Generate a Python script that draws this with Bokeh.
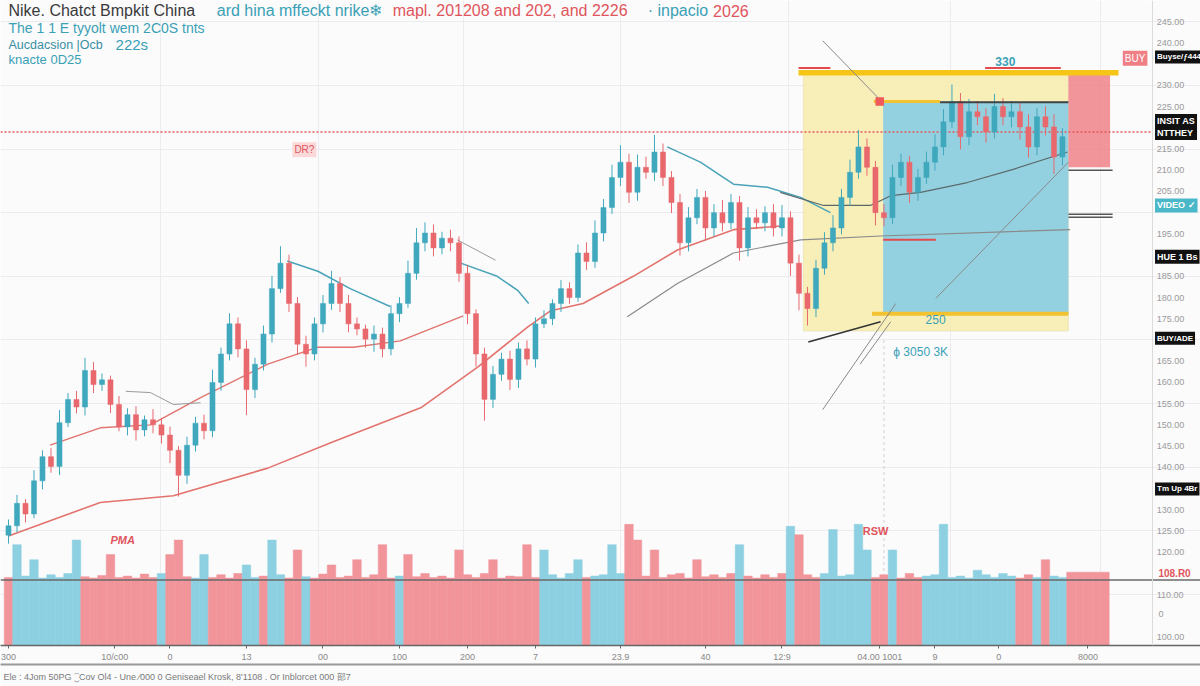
import numpy as np
from bokeh.plotting import figure
from bokeh.models import (Range1d, LinearAxis, FixedTicker, Span, Label,
                          BoxAnnotation, Title, ColumnDataSource)
from bokeh.embed import file_html
from bokeh.resources import INLINE
from bokeh.core.properties import value

# ---------------- data ----------------
closes = [126.2, 131.5, 129.0, 136.8, 142.5, 140.2, 150.5, 156.0, 154.2, 162.8,
          159.5, 160.6, 154.8, 149.5, 152.4, 148.8, 151.2, 150.0, 147.6, 144.0,
          138.1, 145.2, 150.4, 148.6, 160.0, 166.7, 173.8, 167.9, 158.3, 164.3,
          171.4, 182.1, 188.1, 178.6, 169.0, 166.7, 173.8, 178.6, 183.3, 178.6,
          173.8, 172.6, 170.2, 171.4, 167.9, 176.2, 178.6, 185.7, 192.9, 195.2,
          191.7, 194.0, 192.9, 185.7, 176.2, 166.7, 156.0, 161.9, 165.5, 160.7,
          167.9, 165.5, 173.8, 175.0, 178.6, 182.1, 180.0, 190.5, 188.5, 195.2,
          201.2, 208.3, 211.9, 204.8, 210.7, 209.5, 214.3, 208.3, 202.4, 192.9,
          198.8, 203.6, 196.4, 200.0, 197.6, 202.4, 191.7, 198.8, 197.6, 200.0,
          196.4, 198.8, 188.1, 181.0, 177.4, 186.9, 192.9, 196.4, 203.6, 209.5,
          215.5, 210.7, 200.0, 198.8, 208.3, 211.9, 204.8, 208.3, 211.9, 215.5,
          221.4, 226.2, 217.9, 223.8, 222.6, 219.0, 225.0, 222.6, 223.8, 220.2,
          215.5, 222.6, 220.2, 213.1, 217.9]
first_open = 124.0
wick_hi = [1.5, 2, 1, 2.5, 1.5, 2, 3, 1.5, 2, 3,
           2, 1.5, 1, 2, 1.5, 2, 1, 2.5, 1.5, 2,
           1, 2, 1.5, 2, 3, 1.5, 2.5, 1.5, 2, 1.5,
           2, 3, 4, 2, 1.5, 2, 1.5, 2, 3, 1.5,
           2, 1.5, 1, 2, 1.5, 2, 1.5, 3, 3.5, 2.5,
           2, 1.5, 2, 1.5, 2, 1, 1.5, 2, 1.5, 2,
           1.5, 2, 1.5, 2, 1, 2, 1.5, 2, 2.5, 3,
           2, 3, 4, 2, 3, 2.5, 4, 2, 1.5, 2,
           2.5, 2, 1.5, 2, 3, 2, 1.5, 2.5, 2, 1.5,
           2, 3, 1.5, 2, 1.5, 2, 2.5, 3, 2, 3,
           4, 2, 1.5, 2, 3, 2, 1.5, 2, 2.5, 3,
           3, 4, 2, 3, 2.5, 2, 3, 2, 2.5, 2,
           3, 2, 2.5, 3, 2]
wick_lo = [2, 1.5, 2, 1, 2, 1.5, 2, 1, 1.5, 2,
           2, 1.5, 2, 1, 2, 2.5, 1.5, 2, 2, 3,
           5, 2, 1.5, 2, 1.5, 2, 1.5, 2, 6, 2,
           1.5, 2, 1, 2, 2.5, 3, 1.5, 2, 1.5, 2,
           2, 1.5, 2, 3, 2, 1.5, 2, 1, 1.5, 2,
           2, 1.5, 2, 2, 2.5, 3, 5, 2, 1.5, 2.5,
           2, 1.5, 2, 1, 1.5, 2, 1.5, 1, 2, 1.5,
           2, 1.5, 2, 2.5, 2, 1.5, 2, 2, 2.5, 3,
           2, 1.5, 3, 2, 2, 1.5, 3, 2, 1.5, 2,
           2, 2, 3, 4, 4, 2, 1.5, 2, 1.5, 2,
           1.5, 2, 3, 2, 1.5, 2, 2.5, 2, 1.5, 2,
           2, 1.5, 3, 2, 2, 2.5, 1.5, 2, 2.5, 3,
           2.5, 2, 2, 4, 2]
volumes = [104, 154, 106, 131, 103, 108, 104, 110, 161, 105,
           103, 107, 139, 104, 106, 103, 109, 104, 110, 139,
           161, 105, 103, 139, 104, 108, 103, 110, 123, 104,
           106, 161, 108, 103, 146, 105, 103, 109, 123, 104,
           106, 131, 104, 108, 154, 103, 106, 139, 105, 110,
           104, 106, 103, 146, 108, 104, 110, 131, 103, 106,
           105, 154, 104, 146, 108, 103, 110, 131, 104, 106,
           108, 154, 110, 185, 161, 106, 146, 104, 108, 110,
           103, 131, 105, 108, 104, 110, 154, 106, 103, 108,
           104, 110, 182, 169, 108, 104, 110, 177, 106, 108,
           185, 146, 104, 108, 146, 103, 110, 104, 106, 108,
           185, 104, 106, 103, 115, 108, 104, 110, 106, 103,
           108, 104, 131, 106, 104,
           112, 112, 112, 112, 112]
vol_side = ("r" "bbbbbbbb" "rrrrrrrrr" "b" "rrr" "bb" "rrrr" "bb" "r" "bb" "rr" "b"
            "rrrrrrrrrr" "b" "rrrrrrrrrrrrrrrr" "bbbbb" "r" "bbbb" "rrrrrrrrrrrrr" "b"
            "rrrrr" "b" "rrr" "bbbbbb" "rr" "b" "rrr" "bbbbbbbbbbb" "rr" "b" "r" "bb" "rrrrr")

ma_slow_x = [0, 4.9, 10.8, 19.4, 30.5, 38.2, 48.5, 55.2, 61.1, 63.8, 67.6, 73.5, 78.7, 85.3, 91.2]
ma_slow_y = [123.8, 127.4, 131.7, 133.3, 139.8, 146.0, 154.0, 163.6, 173.1, 176.9, 178.6, 185.0, 191.2, 196.0, 196.9]
ma_mid_x = [4.9, 10.8, 16.7, 22.6, 30.5, 36.4, 40.6, 46.1, 53.5]
ma_mid_y = [145.2, 149.3, 150.0, 156.4, 164.3, 168.3, 168.3, 169.8, 175.7]
teal_a_x = [32.8, 36.4, 40.2, 44.9]
teal_a_y = [188.6, 186.2, 182.1, 177.9]
teal_b_x = [53.2, 57.5, 59.9, 61.2]
teal_b_y = [188.1, 185.0, 181.7, 178.6]
teal_c_x = [77.5, 81.4, 85.3, 89.3, 93.2, 96.7]
teal_c_y = [215.5, 211.9, 206.7, 206.0, 203.6, 200.0]
dark_x = [90.8, 95.9, 101.4, 103.8, 107.3, 112.8, 118.2, 124.6]
dark_y = [204.8, 201.7, 201.7, 204.0, 204.8, 207.1, 210.2, 214.3]
grey_x = [72.8, 78.7, 85.3, 93.2, 102.6, 124.9]
grey_y = [175.5, 183.3, 190.5, 193.6, 194.5, 196.0]
grey_s1_x = [13.8, 16.7, 19.4, 22.6]
grey_s1_y = [157.9, 157.6, 154.8, 155.2]
grey_s2_x = [52.8, 57.3]
grey_s2_y = [193.6, 188.8]

xtick_pos = [0, 12.5, 19, 28, 37, 46, 54, 62, 72, 82, 91, 102.5, 109, 116.5, 127]
xtick_labels = ["300", "10/c00", "0", "13", "00", "100", "200", "7", "23.9", "40",
                "12:9", "04.00 1001", "9", "0", "8000"]
price_ticks = [100, 110, 120, 125, 130, 140, 145, 150, 155, 160, 165, 175, 180, 185,
               195, 205, 210, 215, 225, 230, 240, 245]

# ---------------- derived ----------------
n = len(closes)
idx = np.arange(n)
opens = np.array([first_open] + closes[:-1])
c = np.array(closes)
top = np.maximum(opens, c)
bot = np.minimum(opens, c)
small = (top - bot) < 0.4
top = np.where(small, top + 0.2, top)
bot = np.where(small, bot - 0.2, bot)
highs = top + np.array(wick_hi)
lows = bot - np.array(wick_lo)
up = c >= opens
UP, DN = "#3fa8bd", "#e8686d"
ccol = [UP if u else DN for u in up]

VUP, VDN = "#8dd0e1", "#f1959a"
nv = len(volumes)
vcol = [(VUP if (vol_side[i] if i < len(vol_side) else "r") == "b" else VDN) for i in range(nv)]

X0, X1 = -0.94, 140.24
AXIS_X = 134.59   # price-scale edge, in candle-index units

# ---------------- figure ----------------
p = figure(width=1200, height=686, output_backend="svg", toolbar_location=None,
           x_range=Range1d(X0, X1), y_range=Range1d(98, 250),
           y_axis_location=None, min_border_left=0, min_border_top=0,
           min_border_right=0, min_border_bottom=40, background_fill_color="#fbfbfc",
           border_fill_color="#fbfbfc", outline_line_color=None)
p.extra_y_ranges = {"vol": Range1d(0, 985)}

p.xaxis.ticker = FixedTicker(ticks=xtick_pos)
p.xaxis.major_label_overrides = {float(k): v for k, v in zip(xtick_pos, xtick_labels)}
p.xaxis.major_label_text_font_size = "9px"
p.xaxis.major_label_text_color = "#888888"
p.xaxis.axis_line_color = "#666666"
p.xaxis.axis_line_width = 1.5
p.xaxis.major_tick_line_color = "#666666"
p.xaxis.major_tick_out = 3
p.xaxis.major_tick_in = 0
p.xaxis.minor_tick_line_color = None
p.xaxis.major_label_standoff = 3

sep = LinearAxis(axis_line_color="#9a9a9a", axis_line_width=2, major_tick_line_color=None,
                 minor_tick_line_color=None, major_label_text_font_size="1px",
                 major_label_text_color=None, ticker=FixedTicker(ticks=[]))
p.add_layout(sep, "below")
p.add_layout(Title(text="Ele : 4Jom 50PG \u2050Cov Ol4 - Une \u2044000 0 Geniseael Krosk, 8'1108 . Or Inblorcet 000"
                   "                       \u90e87",
                   align="left", text_font_size="9px", text_color="#7a7a7a",
                   text_font_style="normal", text_font="Liberation Sans", offset=3), "below")

p.xgrid.ticker = FixedTicker(ticks=[17.9, 36.5, 53.5, 72.0, 91.8, 110.8, 128.5])
p.xgrid.grid_line_color = "#ececf0"
p.ygrid.ticker = FixedTicker(ticks=[110, 125, 140, 155, 170, 185, 200, 215, 230, 245])
p.ygrid.grid_line_color = "#ececf0"

# price scale edge
p.add_layout(Span(location=AXIS_X, dimension="height", line_color="#dadada", line_width=1))
# faint dashed vertical guide below the zone
p.segment(x0=[103.0], y0=[100.0], x1=[103.0], y1=[170.0], line_color="#d0d0d0",
          line_dash="3 3", line_width=1)

# zones
p.add_layout(BoxAnnotation(left=93.5, right=124.7, top=232.9, bottom=172.1, fill_color="#f7ecb0",
                           fill_alpha=0.9, line_color="#d8c98a", line_width=1, level="underlay"))
p.add_layout(BoxAnnotation(left=102.9, right=124.7, top=226.2, bottom=176.2, fill_color="#8ecfe1",
                           fill_alpha=0.95, line_color=None, level="underlay"))
p.add_layout(BoxAnnotation(left=124.7, right=129.6, top=232.9, bottom=210.7, fill_color="#ee8288",
                           fill_alpha=0.85, line_color=None, level="underlay"))

# volume
p.vbar(x=np.arange(nv), top=volumes, bottom=0, width=1.0, fill_color=vcol, line_color=vcol,
       line_width=0.5, y_range_name="vol")
p.segment(x0=[X0], y0=[100], x1=[X1], y1=[100], y_range_name="vol",
          line_color="#6a6a6a", line_width=1.5)

# red dotted level
p.segment(x0=[X0], y0=[219.0], x1=[AXIS_X], y1=[219.0], line_color="#e05a5a",
          line_dash="2 2", line_width=1.5)

# moving averages and guide lines
p.line(ma_slow_x, ma_slow_y, line_color="#e2736d", line_width=1.6)
p.line(ma_mid_x, ma_mid_y, line_color="#e2736d", line_width=1.4)
for xs, ys in [(teal_a_x, teal_a_y), (teal_b_x, teal_b_y), (teal_c_x, teal_c_y)]:
    p.line(xs, ys, line_color="#4aa3b8", line_width=1.5)
p.line(dark_x, dark_y, line_color="#5a6a6a", line_width=1.2)
p.line(grey_x, grey_y, line_color="#8a8a8a", line_width=1.2)
p.line(grey_s1_x, grey_s1_y, line_color="#9a9a9a", line_width=1)
p.line(grey_s2_x, grey_s2_y, line_color="#9a9a9a", line_width=1)

# candles
src = ColumnDataSource(dict(x=idx, hi=highs, lo=lows, top=top, bot=bot, col=ccol))
p.segment(x0="x", y0="hi", x1="x", y1="lo", line_color="col", line_width=1, source=src)
p.vbar(x="x", top="top", bottom="bot", width=0.6, fill_color="col", line_color="col",
       line_width=0.5, source=src)

# zone drawing lines
p.quad(left=[92.95], right=[130.6], top=[233.6], bottom=[232.3], fill_color="#f5c518", line_color=None)
p.segment(x0=[92.95, 114.9], y0=[234.1, 234.1], x1=[96.7, 123.8], y1=[234.1, 234.1],
          line_color="#e5484d", line_width=2)
p.segment(x0=[101.8], y0=[226.2], x1=[109.6], y1=[226.2], line_color="#f2c230", line_width=3)
p.segment(x0=[109.6], y0=[226.0], x1=[124.7], y1=[226.0], line_color="#444444", line_width=2)
p.segment(x0=[101.6], y0=[176.2], x1=[124.7], y1=[176.2], line_color="#f2c230", line_width=4)
p.segment(x0=[102.9], y0=[193.6], x1=[109.1], y1=[193.6], line_color="#e5484d", line_width=2)
p.segment(x0=[124.7, 124.7, 124.7], y0=[210.0, 199.6, 198.9], x1=[129.9, 129.9, 129.9],
          y1=[210.0, 199.6, 198.9], line_color="#555555", line_width=1.5)
p.segment(x0=[94.1], y0=[169.5], x1=[102.6], y1=[174.3], line_color="#333333", line_width=1.5)
p.segment(x0=[95.8, 124.7, 104.4, 103.8], y0=[240.5, 211.9, 178.6, 174.3],
          x1=[102.4, 109.1, 95.8, 100.2], y1=[226.9, 179.8, 153.6, 164.3],
          line_color="#8a8a8a", line_width=1)
p.quad(left=[102.0], right=[103.0], top=[227.2], bottom=[225.2], fill_color="#ef5a5a", line_color=None)

# price scale labels
p.text(x=[AXIS_X + 0.5] * len(price_ticks), y=price_ticks,
       text=["%.2f" % v for v in price_ticks], text_font=value("Liberation Sans"),
       text_font_size=value("9px"), text_color="#9a9a9a", text_baseline="middle", text_align="left")

# ---------------- texts ----------------
F = "Liberation Sans"
def lab(x, y, t, color, size, style="normal", bg=None, pad=0, align="left"):
    kw = dict(x=x, y=y, text=t, text_color=color, text_font_size=size, text_font_style=style,
              text_font=F, text_baseline="middle", text_align=align)
    if bg is not None:
        kw.update(background_fill_color=bg, padding=pad)
    p.add_layout(Label(**kw))

lab(0.0, 247.6, "Nike. Chatct Bmpkit China", "#3a3a3a", "16px")
lab(24.5, 247.6, "ard hina mffeckt nrike\u2744", "#3aa0b6", "16px")
lab(45.2, 247.6, "mapl. 201208 and 202, and 2226", "#e0555c", "16px")
lab(75.2, 247.6, "\u00b7 inpacio", "#3aa0b6", "16px")
lab(82.9, 247.6, "2026", "#e0555c", "16px")
lab(0.0, 243.6, "The 1 1 E  tyyolt wem 2C0S tnts", "#3aa0b6", "14px")
lab(0.0, 239.5, "Aucdacsion |Ocb", "#3a8fa3", "12.5px")
lab(12.6, 239.6, "222s", "#3aa0b6", "15px")
lab(0.0, 236.2, "knacte 0D25", "#3aa0b6", "13px")

lab(33.4, 214.8, "DR?", "#e0555c", "10px", bg="#fbd9d9", pad=2)
lab(116.1, 235.7, "330", "#3aa0b6", "12px", "bold")
lab(107.9, 174.8, "250", "#3aa0b6", "12px")
lab(104.1, 167.1, "\u03d5 3050 3K", "#3aa0b6", "12px")
lab(12.0, 122.9, "PMA", "#e0555c", "11px", "bold italic")
lab(100.5, 125.0, "RSW", "#e0555c", "11px", "bold")

# right price-scale badges
lab(131.1, 236.4, "BUY", "white", "10px", bg="#ef7f85", pad=2)
lab(AXIS_X + 0.3, 236.7, "Buyse/\u0192444", "white", "8px", "bold", bg="#111111", pad=2)
lab(AXIS_X + 0.3, 220.2, "INSIT AS\nNTTHEY", "white", "9px", "bold", bg="#111111", pad=2)
lab(AXIS_X + 0.3, 201.7, "VIDEO \u2713", "white", "9px", "bold", bg="#4bb8c9", pad=2)
lab(AXIS_X + 0.3, 189.6, "HUE 1 Bs", "white", "9px", "bold", bg="#111111", pad=2)
lab(AXIS_X + 0.3, 170.4, "BUY/ADE", "white", "8px", "bold", bg="#111111", pad=2)
lab(AXIS_X + 0.3, 134.9, "Tm Up 4Br", "white", "8px", "bold", bg="#111111", pad=2)
lab(AXIS_X + 0.7, 115.0, "108.R0", "#e0555c", "10px", "bold")
lab(AXIS_X + 0.7, 105.5, "0", "#9a9a9a", "9px")

open("out.html", "w").write(file_html(p, INLINE))
